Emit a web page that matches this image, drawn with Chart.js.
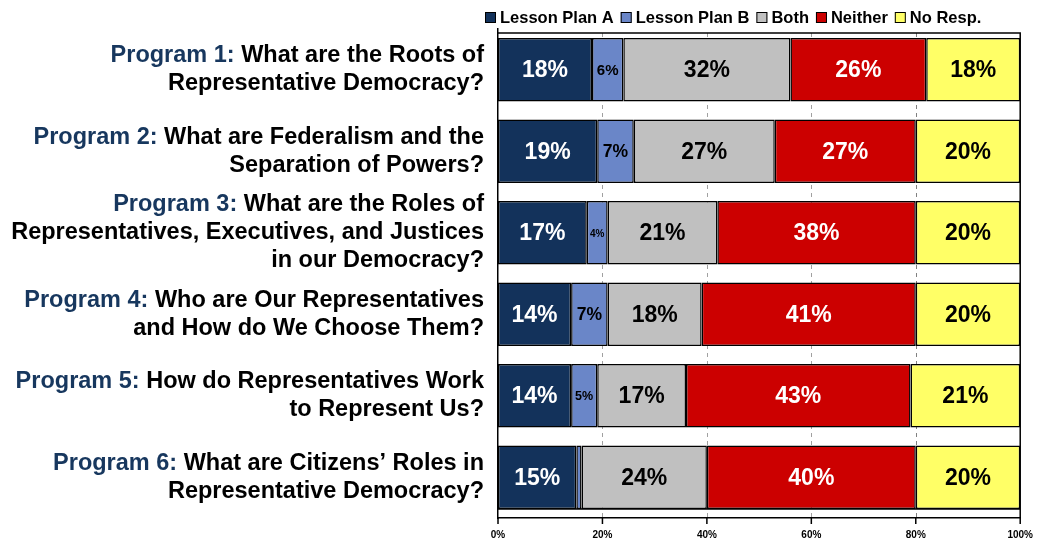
<!DOCTYPE html>
<html>
<head>
<meta charset="utf-8">
<script src="https://cdn.jsdelivr.net/npm/chart.js@4.4.1/dist/chart.umd.min.js"></script>
<style>
  html, body { margin: 0; padding: 0; background: #fff; }
</style>
</head>
<body>
<canvas id="chart" width="1037" height="546"></canvas>
<script>
const FONT = '"Liberation Sans", Arial, sans-serif';

const programNames = ['Program 1:', 'Program 2:', 'Program 3:', 'Program 4:', 'Program 5:', 'Program 6:'];
const questionLines = [
    ['What are the Roots of', 'Representative Democracy?'],
    ['What are Federalism and the', 'Separation of Powers?'],
    ['What are the Roles of', 'Representatives, Executives, and Justices', 'in our Democracy?'],
    ['Who are Our Representatives', 'and How do We Choose Them?'],
    ['How do Representatives Work', 'to Represent Us?'],
    ['What are Citizens’ Roles in', 'Representative Democracy?']
];

const seriesNames = ['Lesson Plan A', 'Lesson Plan B', 'Both', 'Neither', 'No Resp.'];
const lessonPlanA = [18, 19, 17, 14, 14, 15];
const lessonPlanB = [6, 7, 4, 7, 5, 1];
const both = [32, 27, 21, 18, 17, 24];
const neither = [26, 27, 38, 41, 43, 40];
const noResponse = [18, 20, 20, 20, 21, 20];

const tickStep = 20;
const tickMax = 100;

const fills = ['#13325B', '#6A86C8', '#C0C0C0', '#CC0000', '#FFFF66'];
const labelInk = ['#fff', '#000', '#000', '#fff', '#000'];

const makeSet = (i, values) => ({
    label: seriesNames[i],
    data: values,
    backgroundColor: fills[i],
    borderColor: '#000',
    borderWidth: 1.5,
    borderSkipped: false,
    barPercentage: 0.78,
    categoryPercentage: 1.0
});

// legend drawn by hand so it can sit right above the plot
const legendPlugin = {
    id: 'topLegend',
    afterDraw(chart) {
        const ctx = chart.ctx;
        let x = 485;
        const y = 17;
        ctx.save();
        ctx.font = 'bold 16.5px ' + FONT;
        ctx.textBaseline = 'middle';
        ctx.textAlign = 'left';
        chart.data.datasets.forEach(ds => {
            ctx.fillStyle = ds.backgroundColor;
            ctx.fillRect(x, y - 5, 11, 11);
            ctx.strokeStyle = '#000';
            ctx.lineWidth = 1;
            ctx.strokeRect(x + 0.5, y - 4.5, 10, 10);
            x += 15;
            ctx.fillStyle = '#000';
            ctx.fillText(ds.label, x, y + 1);
            x += ctx.measureText(ds.label).width + 7;
        });
        ctx.restore();
    }
};

// dashed gridlines behind the bars, frame and tick marks on top
const framePlugin = {
    id: 'frame',
    beforeDatasetsDraw(chart) {
        const { ctx, chartArea: a, scales: { x } } = chart;
        ctx.save();
        ctx.lineWidth = 1;
        ctx.setLineDash([4, 4]);
        for (let v = tickStep; v < tickMax; v += tickStep) {
            const px = Math.round(x.getPixelForValue(v)) + 0.5;
            ctx.strokeStyle = v === 80 ? '#808080' : '#a0a0a0';
            ctx.beginPath();
            ctx.moveTo(px, a.top + 4);
            ctx.lineTo(px, a.bottom);
            ctx.stroke();
        }
        ctx.restore();
    },
    afterDatasetsDraw(chart) {
        const { ctx, chartArea: a, scales: { x } } = chart;
        ctx.save();
        ctx.strokeStyle = '#000';
        ctx.lineWidth = 1.5;
        ctx.beginPath();
        ctx.moveTo(a.left, a.top + 4);
        ctx.lineTo(a.right, a.top + 4);
        ctx.lineTo(a.right, a.bottom);
        ctx.moveTo(a.left, a.bottom - 9);
        ctx.lineTo(a.right, a.bottom - 9);
        ctx.stroke();
        for (let v = 0; v <= tickMax; v += tickStep) {
            const px = x.getPixelForValue(v);
            ctx.beginPath();
            ctx.moveTo(px, a.bottom);
            ctx.lineTo(px, a.bottom + 6);
            ctx.stroke();
        }
        ctx.restore();
    }
};

// percentage labels inside each segment, shrunk to fit narrow ones
const valuePlugin = {
    id: 'values',
    afterDatasetsDraw(chart) {
        const ctx = chart.ctx;
        ctx.save();
        ctx.textAlign = 'center';
        ctx.textBaseline = 'middle';
        chart.data.datasets.forEach((ds, di) => {
            chart.getDatasetMeta(di).data.forEach((bar, i) => {
                const v = ds.data[i];
                if (v < 2) return;
                const w = Math.abs(bar.x - bar.base);
                const size = Math.min(23, w * 0.48);
                ctx.font = 'bold ' + size + 'px ' + FONT;
                ctx.fillStyle = labelInk[di];
                ctx.fillText(v + '%', (bar.x + bar.base) / 2, bar.y + 1);
            });
        });
        ctx.restore();
    }
};

// two-colour category labels: program name in blue, question in black
const categoryPlugin = {
    id: 'categories',
    afterDraw(chart) {
        const { ctx, chartArea: a, scales: { y } } = chart;
        const right = a.left - 14;
        const lineH = 28;
        ctx.save();
        ctx.font = 'bold 23.5px ' + FONT;
        ctx.textAlign = 'right';
        ctx.textBaseline = 'middle';
        questionLines.forEach((lines, i) => {
            const cy = y.getPixelForValue(i);
            lines.forEach((line, j) => {
                const ly = cy + (j - (lines.length - 1) / 2) * lineH;
                ctx.fillStyle = '#000';
                ctx.fillText(line, right, ly);
                if (j === 0) {
                    const w = ctx.measureText(' ' + line).width;
                    ctx.fillStyle = '#17375E';
                    ctx.fillText(programNames[i], right - w, ly);
                }
            });
        });
        ctx.restore();
    }
};

new Chart(document.getElementById('chart'), {
    type: 'bar',
    data: {
        labels: programNames,
        datasets: [
            makeSet(0, lessonPlanA),
            makeSet(1, lessonPlanB),
            makeSet(2, both),
            makeSet(3, neither),
            makeSet(4, noResponse)
        ]
    },
    options: {
        indexAxis: 'y',
        responsive: false,
        animation: false,
        devicePixelRatio: 1,
        layout: { padding: { left: 498, right: 16, top: 29, bottom: 1 } },
        plugins: {
            legend: { display: false },
            tooltip: { enabled: false }
        },
        scales: {
            x: {
                stacked: true,
                min: 0,
                max: tickMax,
                ticks: {
                    stepSize: tickStep,
                    callback: v => v + '%',
                    color: '#000',
                    padding: 4,
                    maxRotation: 0,
                    font: { family: FONT, size: 10, weight: 'bold' }
                },
                grid: { display: false, drawTicks: true, tickLength: 7 },
                border: { display: true, color: '#000', width: 1.5 }
            },
            y: {
                stacked: true,
                ticks: { display: false },
                grid: { display: false, drawTicks: false },
                border: { display: true, color: '#000', width: 1.5 }
            }
        }
    },
    plugins: [framePlugin, valuePlugin, categoryPlugin, legendPlugin]
});
</script>
</body>
</html>
